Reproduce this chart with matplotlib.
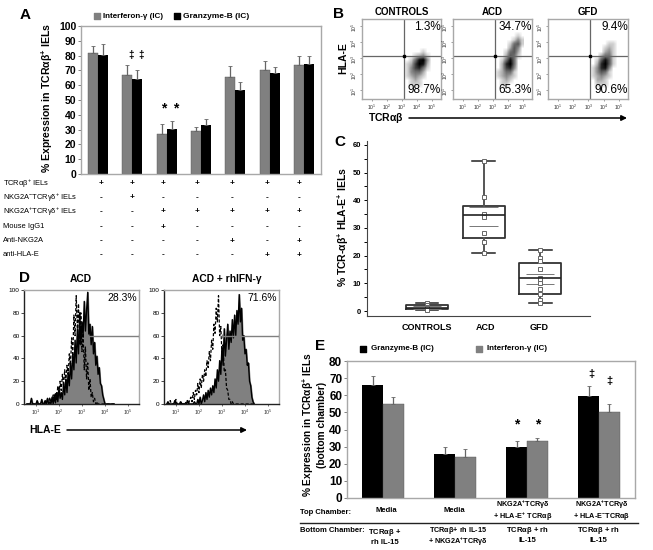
"""Multi-panel figure: IEL expression bars, flow plots, box plot, histograms."""

import matplotlib

matplotlib.use("Agg")
import matplotlib.pyplot as plt
from matplotlib.colors import PowerNorm
import numpy as np

plt.rcParams["font.family"] = ["Liberation Sans", "DejaVu Sans"]
plt.rcParams["mathtext.fontset"] = "custom"
plt.rcParams["mathtext.rm"] = "Liberation Sans"
plt.rcParams["mathtext.it"] = "Liberation Sans"
plt.rcParams["mathtext.bf"] = "Liberation Sans:bold"
plt.rcParams["mathtext.default"] = "regular"

W, H = 653, 550
GRAY = "#808080"
FRAME = "#a8a8a8"

# panel A
a_ifn = [81.5, 67, 27, 29, 65.5, 70, 73.5]
a_ifn_top = [86.5, 73.5, 33.5, 31.5, 73, 76.5, 79.5]
a_gzm = [80.5, 64.5, 30.5, 33, 57, 68.5, 74.5]
a_gzm_top = [88, 70, 35.5, 37, 62, 72, 80]
a_rows = [r"TCR$\alpha\beta^{+}$ IELs", r"NKG2A$^{-}$TCR$\gamma\delta^{+}$ IELs",
          r"NKG2A$^{+}$TCR$\gamma\delta^{+}$ IELs", "Mouse IgG1", "Anti-NKG2A", "anti-HLA-E"]
a_signs = ["+++++++", "-+-----", "--+++++", "--+----", "----+-+", "-----++"]

# panel B, density of the clouds, rows from top (log y 4.625) to bottom (0.875)
b_titles = ["CONTROLS", "ACD", "GFD"]
b_upper = ["1.3%", "34.7%", "9.4%"]
b_lower = ["98.7%", "65.3%", "90.6%"]
b_controls = [[0, 0, 0, 0, 0, 0, 0, 0], [0, 0, 0, 0, 0, 0, 0, 0], [0, 0, 0, 0, 0, 0, 0, 0],
              [0, 0, 0, 0, 0, 0, 0, 0], [0, 0, 0, 0, 0, 0, 0, 0], [0, 0, 0, 0, 0, 1, 0, 0],
              [0, 0, 0, 1, 2, 3, 1, 0], [0, 0, 1, 4, 8, 9, 3, 0], [0, 1, 2, 6, 9, 8, 2, 0],
              [0, 1, 3, 6, 7, 4, 1, 0], [0, 1, 3, 4, 4, 2, 0, 0], [0, 1, 2, 3, 2, 1, 0, 0],
              [0, 0, 1, 2, 1, 0, 0, 0], [0, 0, 1, 1, 1, 0, 0, 0], [0, 0, 0, 0, 0, 0, 0, 0],
              [0, 0, 0, 0, 0, 0, 0, 0]]
b_acd = [[0, 0, 0, 0, 0, 0, 0, 0], [0, 0, 0, 0, 0, 0, 1, 0], [0, 0, 0, 0, 0, 1, 3, 1],
         [0, 0, 0, 0, 1, 4, 5, 1], [0, 0, 0, 0, 2, 5, 3, 0], [0, 0, 0, 1, 4, 5, 2, 0],
         [0, 0, 0, 2, 5, 4, 1, 0], [0, 0, 1, 4, 8, 4, 0, 0], [0, 0, 2, 7, 9, 4, 0, 0],
         [0, 0, 2, 6, 7, 3, 0, 0], [0, 1, 2, 4, 4, 1, 0, 0], [0, 1, 2, 3, 2, 1, 0, 0],
         [0, 0, 1, 2, 1, 0, 0, 0], [0, 0, 1, 1, 0, 0, 0, 0], [0, 0, 0, 0, 0, 0, 0, 0],
         [0, 0, 0, 0, 0, 0, 0, 0]]
b_gfd = [[0, 0, 0, 0, 0, 0, 0, 0], [0, 0, 0, 0, 0, 0, 0, 0], [0, 0, 0, 0, 0, 0, 0, 0],
         [0, 0, 0, 0, 0, 1, 1, 0], [0, 0, 0, 0, 1, 2, 1, 0], [0, 0, 0, 0, 2, 3, 1, 0],
         [0, 0, 0, 2, 4, 4, 1, 0], [0, 0, 1, 5, 8, 5, 1, 0], [0, 0, 2, 7, 9, 5, 1, 0],
         [0, 1, 3, 7, 8, 3, 0, 0], [0, 1, 3, 5, 4, 1, 0, 0], [0, 1, 2, 3, 2, 1, 0, 0],
         [0, 0, 2, 2, 1, 0, 0, 0], [0, 0, 1, 1, 1, 0, 0, 0], [0, 0, 0, 0, 0, 0, 0, 0],
         [0, 0, 0, 0, 0, 0, 0, 0]]

# panel C
c_names = ["CONTROLS", "ACD", "GFD"]
c_lo = [0.3, 21, 3]
c_q1 = [0.7, 26.4, 6.3]
c_med = [1.2, 34.5, 12]
c_q3 = [2, 38, 17.2]
c_hi = [3, 54, 22]
c_sd_lo = [0.6, 30.7, 9.7]
c_sd_hi = [1.8, 37.7, 13.3]
c_points = [[3, 2, 1.5, 1, 0.5], [54, 41, 35, 34, 28, 25, 21],
            [22, 19, 18, 15, 12, 11.5, 10, 8, 6, 4, 3]]

# panel D
d_bins = [0.6, 0.65, 0.7, 0.75, 0.8, 0.85, 0.9, 0.95, 1.0, 1.05, 1.1, 1.15, 1.2, 1.25, 1.3, 1.35, 1.4, 1.45, 1.5,
          1.55, 1.6, 1.65, 1.7, 1.75, 1.8, 1.85, 1.9, 1.95, 2.0, 2.05, 2.1, 2.15, 2.2, 2.25, 2.3, 2.35, 2.4, 2.45,
          2.5, 2.55, 2.6, 2.65, 2.7, 2.75, 2.8, 2.85, 2.9, 2.95, 3.0, 3.05, 3.1, 3.15, 3.2, 3.25, 3.3, 3.35, 3.4,
          3.45, 3.5, 3.55, 3.6, 3.65, 3.7, 3.75, 3.8, 3.85, 3.9, 3.95, 4.0, 4.05, 4.1, 4.15, 4.2, 4.25, 4.3, 4.35, 4.4]
d_acd_solid = [0, 0, 0, 0, 5, 0, 0, 0, 0, 3, 0, 0, 0, 4, 0, 0, 3, 0, 5,
               0, 2, 0, 6, 0, 8, 1, 10, 2, 14, 5, 10, 4, 18, 8, 22, 10, 28, 16,
               36, 22, 44, 30, 56, 36, 66, 44, 80, 52, 72, 60, 90, 64, 82, 98, 60, 70, 52,
               68, 44, 54, 34, 42, 26, 32, 18, 16, 8, 4, 0, 0, 0, 0, 0, 0, 0, 0, 0]
d_acd_dash = [0, 0, 0, 0, 0, 0, 0, 0, 0, 0, 0, 0, 0, 2, 0, 0, 3, 0, 4,
              0, 6, 1, 3, 8, 2, 10, 4, 16, 8, 20, 12, 26, 16, 30, 20, 34, 26, 44,
              32, 58, 42, 78, 60, 95, 66, 88, 52, 80, 46, 62, 30, 50, 22, 36, 12, 22, 6,
              10, 2, 5, 0, 2, 0, 0, 0, 0, 0, 0, 0, 0, 0, 0, 0, 0, 0, 0, 0]
d_ifn_solid = [0, 2, 0, 0, 0, 0, 0, 3, 0, 0, 0, 0, 2, 0, 0, 0, 0, 0, 3,
               0, 0, 0, 0, 0, 2, 0, 0, 4, 0, 6, 0, 3, 8, 2, 10, 4, 12, 6,
               14, 8, 16, 10, 22, 14, 30, 20, 38, 26, 50, 34, 66, 42, 56, 70, 48, 64, 54,
               74, 58, 78, 60, 82, 70, 96, 72, 84, 56, 60, 44, 48, 34, 36, 20, 16, 6, 2, 0]
d_ifn_dash = [0, 0, 0, 3, 0, 0, 0, 0, 4, 0, 0, 0, 0, 2, 0, 0, 2, 0, 3,
              0, 4, 6, 2, 10, 4, 12, 8, 18, 10, 22, 14, 26, 20, 30, 24, 38, 32, 46,
              38, 56, 48, 70, 62, 84, 72, 95, 60, 68, 44, 52, 28, 30, 14, 12, 4, 4, 0,
              2, 0, 0, 0, 0, 0, 0, 0, 0, 0, 0, 0, 0, 0, 0, 0, 0, 0, 0, 0]

# panel E
e_groups = 4
e_gzm = [66, 25.5, 29.5, 59.5]
e_gzm_top = [71.5, 30, 33, 65.5]
e_ifn = [55, 24, 33, 50]
e_ifn_top = [59, 28.7, 35, 55]


def add_ax(left, top, right, bottom):
    return fig.add_axes([left / W, 1 - bottom / H, (right - left) / W, (bottom - top) / H])


def style_frame(ax, color=FRAME, lw=1.0):
    for side in ax.spines.values():
        side.set_color(color)
        side.set_linewidth(lw)


fig = plt.figure(figsize=(W / 100, H / 100), dpi=100, facecolor="white")

# overlay in pixel coordinates for annotation text
ov = fig.add_axes([0, 0, 1, 1], zorder=10)
ov.set_xlim(0, W)
ov.set_ylim(H, 0)
ov.axis("off")


def put(x, y, s, size=6, bold=False, ha="center", rot=0, color="black"):
    ov.text(x, y, s, fontsize=size, fontweight="bold" if bold else "normal", ha=ha, va="center",
            rotation=rot, color=color, linespacing=1.1)


for x, y, s in [(25, 15, "A"), (338, 14, "B"), (340, 142, "C"), (25, 278, "D"), (320, 346, "E")]:
    put(x, y, s, 11, True)

# A
ax = add_ax(81, 26, 321, 174)
xa = np.arange(7) + 0.5
ax.bar(xa - 0.145, a_ifn, 0.29, color=GRAY, edgecolor="#555555", lw=0.3)
ax.bar(xa + 0.145, a_gzm, 0.29, color="black")
ax.errorbar(xa - 0.145, a_ifn, yerr=[np.zeros(7), np.subtract(a_ifn_top, a_ifn)], fmt="none", ecolor="#666666",
            elinewidth=0.9, capsize=1.2, capthick=0.6)
ax.errorbar(xa + 0.145, a_gzm, yerr=[np.zeros(7), np.subtract(a_gzm_top, a_gzm)], fmt="none", ecolor="#666666",
            elinewidth=0.9, capsize=1.2, capthick=0.6)
ax.set_xlim(0, 7)
ax.set_ylim(0, 100)
ax.set_xticks([])
ax.set_yticks(range(0, 101, 10))
ax.tick_params(axis="y", labelsize=7.5, length=2, width=0.7, pad=1.5, color=GRAY)
for lab in ax.get_yticklabels():
    lab.set_fontweight("bold")
style_frame(ax)
put(47, 98, r"% Expression in TCR$\mathbf{\alpha\beta^{+}}$ IELs", 7.6, True, rot=90)
ov.scatter([97, 177], [16, 16], marker="s", s=13, c=[GRAY, "black"])
put(103, 16, "Interferon-γ (IC)", 5.8, True, ha="left")
put(183, 16, "Granzyme-B (IC)", 6, True, ha="left")
for x, y, s in [(131, 55, "‡"), (141, 55, "‡")]:
    put(x, y, s, 7, True)
for x, y, s in [(164, 108, "*"), (176, 108, "*")]:
    put(x, y, s, 10, True)
sign_x = [101, 132, 163, 197, 232, 267, 299]
sign_y = [184, 198, 212, 227, 241, 255]
for y, row, signs in zip(sign_y, a_rows, a_signs):
    put(3, y, row, 5.4, ha="left")
    for x, s in zip(sign_x, signs):
        put(x, y, s, 6, True)

# B
b_left = [362, 453, 548]
b_right = [441, 532, 628]
b_clouds = [b_controls, b_acd, b_gfd]
b_labels = ["$10^{%d}$" % d for d in range(1, 6)]
for i in range(3):
    ax = add_ax(b_left[i], 19, b_right[i], 99)
    ax.imshow(b_clouds[i], extent=(3.0, 5.0, 0.75, 4.75), cmap="Greys", norm=PowerNorm(0.55, vmin=0, vmax=9),
              interpolation="bilinear", aspect="auto")
    ax.axhline(3.12, color="#666666", lw=0.9)
    ax.axvline(3.12, color="#666666", lw=0.9)
    ax.plot([3.12], [3.12], "s", color="black", ms=1.8)
    ax.set_xlim(0.35, 5.6)
    ax.set_ylim(0.44, 5.44)
    ax.set_xticks(range(1, 6), b_labels)
    ax.set_yticks(range(1, 6), b_labels)
    ax.tick_params(labelsize=3.6, length=1.5, width=0.4, pad=1, labelcolor="#333333", color="#555555")
    ax.tick_params(axis="y", labelrotation=90)
    style_frame(ax, FRAME, 1.0)
    cx = (b_left[i] + b_right[i]) / 2
    put(cx, 12, b_titles[i], 7, True)
    put(b_right[i], 27, b_upper[i], 8.5, ha="right")
    put(b_right[i], 90, b_lower[i], 8.5, ha="right")
put(343, 58, "HLA-E", 7.5, True, rot=90)
put(386, 118, r"TCR$\mathbf{\alpha\beta}$", 7.5, True)
ov.annotate("", xy=(627, 118), xytext=(409, 118), arrowprops=dict(arrowstyle="-|>", lw=1.1, color="black",
                                                                 mutation_scale=8, shrinkA=0, shrinkB=0))

# C
ax = add_ax(367, 141, 590, 316)
stats = [dict(whislo=c_lo[i], q1=c_q1[i], med=c_med[i], q3=c_q3[i], whishi=c_hi[i], fliers=[]) for i in range(3)]
ax.bxp(stats, positions=range(3), widths=0.74, showfliers=False, manage_ticks=False,
       boxprops=dict(color="#333333", lw=1.3), medianprops=dict(color="#222222", lw=1.2),
       whiskerprops=dict(color="#555555", lw=1.4), capprops=dict(color="#222222", lw=1.1), capwidths=0.4)
for i in range(3):
    ax.hlines([c_sd_lo[i], c_sd_hi[i]], i - 0.25, i + 0.25, color="#777777", lw=0.7)
    ax.plot([i] * len(c_points[i]), c_points[i], "s", mfc="white", mec="#666666", mew=0.7, ms=2.8)
ax.set_xlim(-1.06, 2.88)
ax.set_ylim(-1.8, 61.4)
ax.set_xticks([])
ax.set_yticks(range(0, 61, 10))
ax.set_yticks(range(0, 61, 5), minor=True)
ax.tick_params(axis="y", which="both", labelsize=5.5, length=2.5, width=0.7, pad=1.5)
for lab in ax.get_yticklabels():
    lab.set_fontweight("bold")
ax.spines[["top", "right"]].set_visible(False)
ax.spines["left"].set_color("#444444")
ax.spines["bottom"].set_color("#444444")
put(343, 227, r"% TCR-$\mathbf{\alpha\beta^{+}}$ HLA-E$\mathbf{^{+}}$ IELs", 7.5, True, rot=90)
for x, s in zip([427, 486, 539], c_names):
    put(x, 327, s, 6.5, True)

# D
d_left = [24, 164]
d_right = [139, 279]
d_solid = [d_acd_solid, d_ifn_solid]
d_dash = [d_acd_dash, d_ifn_dash]
d_gate = [3.26, 3.0]
d_labels = [("ACD", 81), ("ACD + rhIFN-γ", 227)]
d_pct = ["28.3%", "71.6%"]
for i in range(2):
    ax = add_ax(d_left[i], 290, d_right[i], 404)
    ax.fill_between(d_bins, d_solid[i], color=GRAY)
    ax.plot(d_bins, d_solid[i], color="black", lw=1.0)
    ax.plot(d_bins, d_dash[i], color="black", lw=0.9, ls=(0, (2.5, 1.5)))
    ax.plot([d_gate[i], 5.48], [60, 60], color=GRAY, lw=1.0, marker="|", ms=3)
    ax.set_xlim(0.48, 5.48)
    ax.set_ylim(0, 100)
    ax.set_xticks(range(1, 6), b_labels)
    ax.set_yticks(range(0, 101, 20))
    ax.tick_params(axis="x", labelsize=3.8, length=1.5, width=0.4, pad=1.5, labelcolor="#333333")
    ax.tick_params(axis="y", labelsize=4.6, length=2, width=0.5, pad=1)
    style_frame(ax, FRAME, 1.0)
    ax.spines["left"].set_color("#222222")
    ax.spines["bottom"].set_color("#222222")
    put(d_labels[i][1], 279, d_labels[i][0], 7.4, True)
    put(d_right[i] - 2, 298, d_pct[i], 7.5, ha="right")
put(45, 430, "HLA-E", 7.5, True)
ov.annotate("", xy=(247, 430), xytext=(67, 430), arrowprops=dict(arrowstyle="-|>", lw=1.1, color="black",
                                                                mutation_scale=8, shrinkA=0, shrinkB=0))

# E
ax = add_ax(347, 361, 635, 498)
xe = np.arange(e_groups) + 0.5
ax.bar(xe - 0.145, e_gzm, 0.29, color="black")
ax.bar(xe + 0.145, e_ifn, 0.29, color=GRAY, edgecolor="#555555", lw=0.3)
ax.errorbar(xe - 0.145, e_gzm, yerr=[np.zeros(4), np.subtract(e_gzm_top, e_gzm)], fmt="none", ecolor="#666666",
            elinewidth=0.9, capsize=1.2, capthick=0.6)
ax.errorbar(xe + 0.145, e_ifn, yerr=[np.zeros(4), np.subtract(e_ifn_top, e_ifn)], fmt="none", ecolor="#666666",
            elinewidth=0.9, capsize=1.2, capthick=0.6)
ax.set_xlim(0, e_groups)
ax.set_ylim(0, 80)
ax.set_xticks([])
ax.set_yticks(range(0, 81, 10))
ax.tick_params(axis="y", labelsize=8.5, length=2, width=0.7, pad=1.5, color=GRAY)
for lab in ax.get_yticklabels():
    lab.set_fontweight("bold")
style_frame(ax)
put(314, 425, r"% Expression in TCR$\mathbf{\alpha\beta^{+}}$ IELs" + "\n(bottom chamber)", 7.3, True, rot=90)
ov.scatter([363, 479], [349, 349], marker="s", s=16, c=["black", GRAY])
put(371, 349, "Granzyme-B (IC)", 5.8, True, ha="left")
put(487, 349, "Interferon-γ (IC)", 5.8, True, ha="left")
for x, y, s in [(591, 374, "‡"), (609, 381, "‡")]:
    put(x, y, s, 8, True)
for x, y, s in [(517, 424, "*"), (538, 424, "*")]:
    put(x, y, s, 10, True)
put(300, 512, "Top Chamber:", 5.5, True, ha="left")
put(386, 511, "Media", 5.5, True)
put(454, 511, "Media", 5.5, True)
put(523, 505, r"NKG2A$\mathbf{^{+}}$TCR$\mathbf{\gamma\delta}$", 5.2, True)
put(523, 517, r"+ HLA-E$\mathbf{^{+}}$ TCR$\mathbf{\alpha\beta}$", 5.2, True)
put(602, 505, r"NKG2A$\mathbf{^{+}}$TCR$\mathbf{\gamma\delta}$", 5.2, True)
put(602, 517, r"+ HLA-E$\mathbf{^{-}}$TCR$\mathbf{\alpha\beta}$", 5.2, True)
ov.plot([300, 638], [523, 523], color="#222222", lw=1.0)
put(300, 531, "Bottom Chamber:", 5.5, True, ha="left")
put(385, 532, r"TCR$\mathbf{\alpha\beta}$ +", 5.5, True)
put(385, 542, "rh IL-15", 5.5, True)
put(458, 530, r"TCR$\mathbf{\alpha\beta}$+ rh IL-15", 5.2, True)
put(458, 542, r"+ NKG2A$\mathbf{^{+}}$TCR$\mathbf{\gamma\delta}$", 5.2, True)
put(527, 531, r"TCR$\mathbf{\alpha\beta}$ + rh", 5.5, True)
put(527, 541, "IL-15", 5.5, True)
put(598, 531, r"TCR$\mathbf{\alpha\beta}$ + rh", 5.5, True)
put(598, 541, "IL-15", 5.5, True)

fig.savefig("out.png", dpi=100)
